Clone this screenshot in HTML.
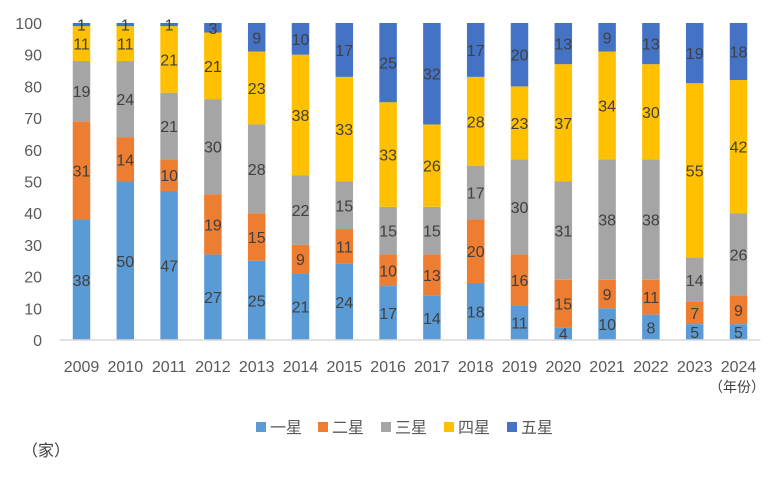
<!DOCTYPE html>
<html><head><meta charset="utf-8"><style>
body{margin:0;background:#fff;width:784px;height:475px;overflow:hidden;font-family:"Liberation Sans","Noto Sans CJK SC",sans-serif;}
svg text{font-family:"Liberation Sans","Noto Sans CJK SC",sans-serif;}
</style></head><body>
<svg id="chart" width="784" height="475" xmlns="http://www.w3.org/2000/svg"></svg>
<script>
const years=["2009","2010","2011","2012","2013","2014","2015","2016","2017","2018","2019","2020","2021","2022","2023","2024"];
const oneStar=[38,50,47,27,25,21,24,17,14,18,11,4,10,8,5,5];
const twoStar=[31,14,10,19,15,9,11,10,13,20,16,15,9,11,7,9];
const threeStar=[19,24,21,30,28,22,15,15,15,17,30,31,38,38,14,26];
const fourStar=[11,11,21,21,23,38,33,33,26,28,23,37,34,30,55,42];
const fiveStar=[1,1,1,3,9,10,17,25,32,17,20,13,9,13,19,18];
const yTicks=[0,10,20,30,40,50,60,70,80,90,100];
const seriesNames=["一星","二星","三星","四星","五星"];
const seriesData=[oneStar,twoStar,threeStar,fourStar,fiveStar];
const colors=["#5b9bd5","#ed7d31","#a5a5a5","#ffc000","#4472c4"];
const svg=document.getElementById('chart');
const NS="http://www.w3.org/2000/svg";
const x0=59.6,step=43.8,bw=17.5,yBase=340,yTop=23;
const y=v=>yBase-(yBase-yTop)*v/100;
const xc=i=>x0+step*(i+0.5);
function mk(t,a,txt){const e=document.createElementNS(NS,t);for(const k in a)e.setAttribute(k,a[k]);if(txt!==undefined)e.textContent=txt;svg.appendChild(e);return e;}
yTicks.forEach(v=>{const t=mk('text',{x:42,y:y(v)+6,'text-anchor':'end','font-size':16,fill:'#595959'},v);

});
years.forEach((yr,i)=>{let acc=0;
seriesData.forEach((s,k)=>{const v=s[i];
const r=mk('rect',{x:xc(i)-bw/2,y:y(acc+v),width:bw,height:y(acc)-y(acc+v),fill:colors[k]});


const t=mk('text',{x:xc(i),y:y(acc+v/2)+6,'text-anchor':'middle','font-size':16,fill:'#404040'},v);


acc+=v;});
const xl=mk('text',{x:xc(i),y:372,'text-anchor':'middle','font-size':16,fill:'#595959'},yr);

});
const ax=mk('line',{x1:x0,x2:x0+step*16,y1:yBase,y2:yBase,stroke:'#d9d9d9','stroke-width':1.5});


const yu=mk('text',{x:737,y:392,'text-anchor':'middle','font-size':14,fill:'#404040'},'（年份）');


const lx=[256,318,381,444,507];
seriesNames.forEach((n,k)=>{const g=mk('g',{});


const r=document.createElementNS(NS,'rect');r.setAttribute('x',lx[k]);r.setAttribute('y',422);r.setAttribute('width',10);r.setAttribute('height',10);r.setAttribute('fill',colors[k]);g.appendChild(r);
const t=document.createElementNS(NS,'text');t.setAttribute('x',lx[k]+14);t.setAttribute('y',433);t.setAttribute('font-size',16);t.setAttribute('fill','#595959');t.textContent=n;g.appendChild(t);});
const yu2=mk('text',{x:22,y:456,'font-size':16,fill:'#404040'},'（家）');


</script>
</body></html>
